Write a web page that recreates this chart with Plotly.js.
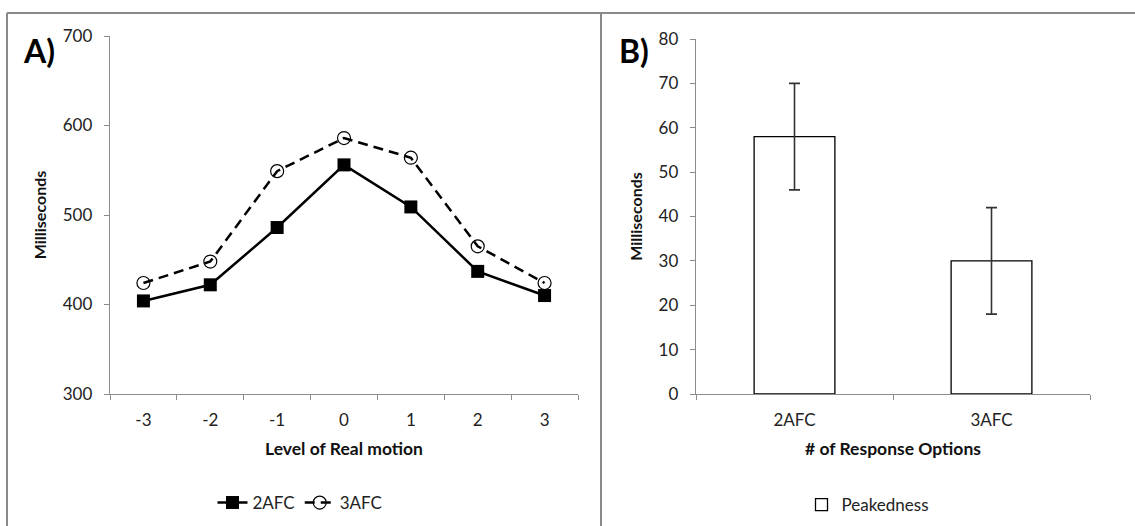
<!DOCTYPE html>
<html>
<head>
<meta charset="utf-8">
<script src="https://cdn.plot.ly/plotly-3.0.1.min.js"></script>
<style>html,body{margin:0;padding:0;background:#fff;}#chart{width:1135px;height:526px;}</style>
</head>
<body>
<div id="chart"></div>
<script>
// Panel A data
const levels = ['-3', '-2', '-1', '0', '1', '2', '3'];
const afc2 = [404, 422, 486, 556, 509, 437, 410];
const afc3 = [424, 448, 549, 586, 564, 465, 424];
// Panel B data
const options = ['2AFC', '3AFC'];
const peakedness = [58, 30];
const peakErr = [12, 12];

const FONT = 'Lato, "Open Sans", sans-serif';
const AX = '#8c8c8c';

const traces = [
  {
    x: levels, y: afc2, name: '2AFC', type: 'scatter', mode: 'lines+markers',
    xaxis: 'x', yaxis: 'y', legend: 'legend',
    line: {color: '#000', width: 2.5},
    marker: {symbol: 'square', size: 13, color: '#000'}
  },
  {
    x: levels, y: afc3, name: '3AFC', type: 'scatter', mode: 'lines+markers',
    xaxis: 'x', yaxis: 'y', legend: 'legend',
    line: {color: '#000', width: 2.5, dash: '10px,6px'},
    marker: {symbol: 'circle-open', size: 13, color: '#000', line: {width: 1.2, color: '#000'}}
  },
  {
    x: options, y: peakedness, name: 'Peakedness', type: 'bar',
    xaxis: 'x2', yaxis: 'y2', legend: 'legend2',
    marker: {color: '#fff', line: {color: '#000', width: 1.3}},
    error_y: {type: 'data', array: peakErr, visible: true, color: '#333', thickness: 1.6, width: 5.5}
  }
];

const tickFont = {family: FONT, size: 17, color: '#222'};
const titleFont = {family: FONT, size: 17.5, color: '#111', weight: 'bold'};

const layout = {
  width: 1135, height: 526,
  margin: {l: 0, r: 0, t: 0, b: 0},
  paper_bgcolor: '#fff', plot_bgcolor: '#fff',
  showlegend: true,
  bargap: 0.59,
  xaxis: {
    domain: [110/1135, 578/1135], anchor: 'y', type: 'category',
    range: [-0.5, 6.5], tickson: 'boundaries', ticks: 'outside', ticklen: 5, tickcolor: AX,
    showline: true, linecolor: AX, linewidth: 1.3, showgrid: false, zeroline: false,
    tickfont: tickFont, ticklabelstandoff: 10, fixedrange: true,
    title: {text: 'Level of Real motion', font: titleFont, standoff: 14}
  },
  yaxis: {
    domain: [1 - 394/526, 1 - 36/526], anchor: 'x',
    range: [300, 700], dtick: 100, ticks: 'outside', ticklen: 5, tickcolor: AX,
    showline: true, linecolor: AX, linewidth: 1.3, showgrid: false, zeroline: false,
    tickfont: tickFont, ticklabelstandoff: 8, fixedrange: true,
    title: {text: 'Milliseconds', font: {family: FONT, size: 16, color: '#111', weight: 'bold'}, standoff: 12}
  },
  xaxis2: {
    domain: [696/1135, 1090/1135], anchor: 'y2', type: 'category',
    range: [-0.5, 1.5], tickson: 'boundaries', ticks: 'outside', ticklen: 5, tickcolor: AX,
    showline: true, linecolor: AX, linewidth: 1.3, showgrid: false, zeroline: false,
    tickfont: tickFont, ticklabelstandoff: 10, fixedrange: true,
    title: {text: '# of Response Options', font: titleFont, standoff: 14}
  },
  yaxis2: {
    domain: [1 - 394/526, 1 - 39/526], anchor: 'x2',
    range: [0, 80], dtick: 10, ticks: 'outside', ticklen: 5, tickcolor: AX,
    showline: true, linecolor: AX, linewidth: 1.3, showgrid: false, zeroline: false,
    tickfont: tickFont, ticklabelstandoff: 8, fixedrange: true,
    title: {text: 'Milliseconds', font: {family: FONT, size: 16, color: '#111', weight: 'bold'}, standoff: 12}
  },
  legend: {
    orientation: 'h', x: 300/1135, y: 1 - 503/526, xanchor: 'center', yanchor: 'middle',
    font: {family: FONT, size: 17, color: '#222'}, bgcolor: 'rgba(0,0,0,0)'
  },
  legend2: {
    orientation: 'h', x: 868/1135, y: 1 - 505/526, xanchor: 'center', yanchor: 'middle',
    font: {family: FONT, size: 17, color: '#222'}, bgcolor: 'rgba(0,0,0,0)'
  },
  annotations: [
    {text: 'A)', xref: 'paper', yref: 'paper', x: 21/1135, y: 1 - 50/526, xanchor: 'left', yanchor: 'middle',
     showarrow: false, font: {family: FONT, size: 32, color: '#000', weight: 'bold'}},
    {text: 'B)', xref: 'paper', yref: 'paper', x: 617/1135, y: 1 - 50/526, xanchor: 'left', yanchor: 'middle',
     showarrow: false, font: {family: FONT, size: 32, color: '#000', weight: 'bold'}}
  ],
  shapes: [
    {type: 'line', xref: 'paper', yref: 'paper', x0: 7/1135, x1: 1, y0: 1 - 13/526, y1: 1 - 13/526, line: {color: '#8a8a8a', width: 2}},
    {type: 'line', xref: 'paper', yref: 'paper', x0: 7/1135, x1: 7/1135, y0: 0, y1: 1 - 13/526, line: {color: '#8a8a8a', width: 2}},
    {type: 'line', xref: 'paper', yref: 'paper', x0: 601/1135, x1: 601/1135, y0: 0, y1: 1 - 13/526, line: {color: '#8a8a8a', width: 2}}
  ]
};

Plotly.newPlot('chart', traces, layout, {displayModeBar: false, staticPlot: true});
</script>
</body>
</html>
